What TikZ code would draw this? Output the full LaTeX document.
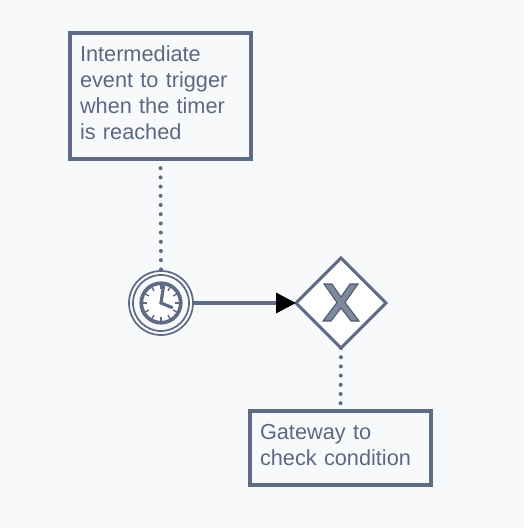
\documentclass[tikz,border=0pt]{standalone}
\usepackage{fontspec}
\setmainfont{Liberation Sans}
\usetikzlibrary{shapes.geometric,arrows.meta}
\definecolor{bgc}{HTML}{F8F9FB}
\definecolor{linec}{HTML}{5F6B85}
\definecolor{textc}{HTML}{5C6883}
\definecolor{xfill}{HTML}{7F899E}
\tikzset{
  px/.style={x=0.75pt,y=-0.75pt},
  note/.style={draw=linec,line width=2.4pt,fill=bgc,inner xsep=7.5pt,inner ysep=0pt,outer sep=0pt,minimum width=135.75pt,text width=120.75pt,anchor=north west,
    text=textc,align=left,font=\fontsize{16.3}{19.5}\selectfont},
  assoc/.style={draw=linec,line width=3pt,line cap=round,dash pattern=on 0pt off 6.9pt},
  flow/.style={draw=linec,line width=2.6pt,-{Triangle[length=15pt,width=15pt,color=black]}},
  gate/.style={diamond,draw=linec,line width=2.2pt,fill=white,inner sep=0pt,outer sep=0pt,minimum width=67.5pt,minimum height=67.5pt,aspect=1},
  ring/.style={circle,draw=linec,inner sep=0pt,outer sep=0pt},
  tick/.style={draw=linec,line width=1.1pt},
  hand/.style={draw=linec,line width=2.4pt,line cap=round}
}
\begin{document}
\begin{tikzpicture}[px]
\useasboundingbox[fill=bgc] (0,0) rectangle (524,528);
\node[ring,line width=1.3pt,minimum size=48pt] (ev) at (161,303) {};
\node[ring,line width=1.3pt,minimum size=42pt] (evin) at (161,303) {};
\node[ring,line width=2.8pt,fill=white,minimum size=29.6pt] (face) at (161,303) {};
\foreach \a in {0,30,...,330}{
  \draw[tick] (face.center) ++(\a:10.5pt) -- ++(\a:3.8pt);
}
\draw[hand] (163.5,286) -- (face.center) -- (172,307.5);
\node[gate] (gw) at (341,303) {};
\draw[draw=linec!85!black,fill=xfill,line width=0.8pt]
 (324,284) -- (332,284) -- (341,297) -- (350,284) -- (358,284) -- (345,302.5) -- (359,321) -- (351,321)
 -- (341,308) -- (331,321) -- (323,321) -- (337,302.5) -- cycle;
\node[note,minimum height=94.5pt] (n1) at (70,33) {Intermediate\\event to trigger\\when the timer\\is reached\vspace{4.5pt}};
\node[note,minimum height=55.5pt] (n2) at (250,411) {Gateway to\\check condition\vspace{4.5pt}};
\draw[assoc] (n1.south) -- (ev.north);
\draw[assoc] (gw.south) -- (n2.north);
\draw[flow] (ev.east) -- (gw.west);
\end{tikzpicture}
\end{document}
